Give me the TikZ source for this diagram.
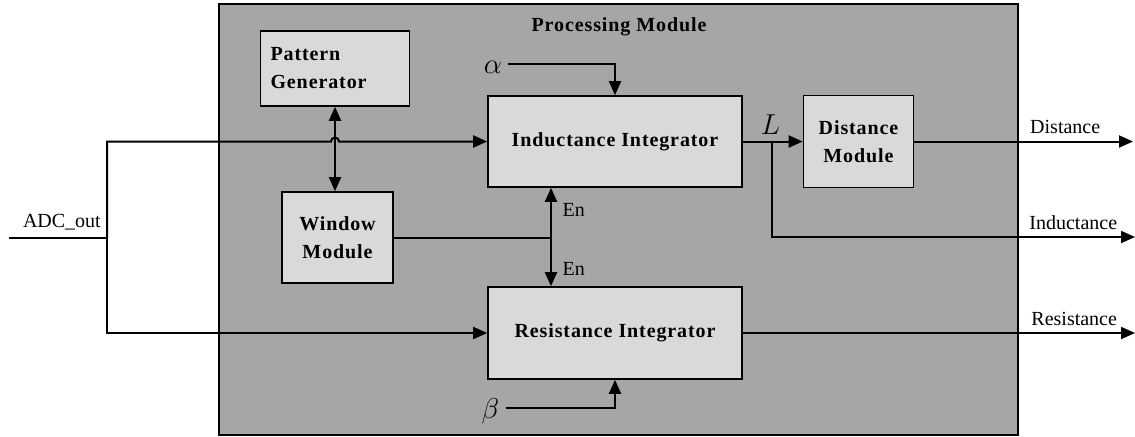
\documentclass[tikz,border=0pt]{standalone}
\usepackage{fontspec}
\setmainfont{Liberation Serif}
\newfontfamily\blockfont[LetterSpace=4.5]{Liberation Serif}
\usetikzlibrary{arrows.meta}
\definecolor{modgray}{HTML}{A6A6A6}
\definecolor{boxgray}{HTML}{D9D9D9}
\tikzset{
	block/.style={draw,fill=boxgray,line width=0.8pt,align=center,inner sep=0pt,
		font=\blockfont\bfseries\fontsize{10}{14}\selectfont},
	sym/.style={inner sep=3pt,font=\fontsize{15}{15}\selectfont},
	sig/.style={line width=1pt}
}

\begin{document}
\begin{tikzpicture}[x=0.5pt,y=-0.5pt,>={Triangle[length=7pt,width=6pt]},font=\fontsize{10}{12}\selectfont]
	\useasboundingbox (0,0) rectangle (1135,436);
	\draw[fill=modgray,line width=0.8pt] (219,4) rectangle (1018,435);
	\node[font=\blockfont\bfseries\fontsize{10}{12}\selectfont] (title) at (619,27) {Processing Module};
	\node[block,minimum width=74.5pt,minimum height=37.5pt,text width=64.5pt,align=left] (pattern) at (335,68.5) {Pattern\\Generator};
	\node[block,minimum width=55.5pt,minimum height=45.5pt] (window) at (337.5,237.5) {Window\\Module};
	\node[block,minimum width=127pt,minimum height=45.5pt] (ind) at (615,141.5) {Inductance Integrator};
	\node[block,minimum width=127pt,minimum height=46pt] (res) at (615,333) {Resistance Integrator};
	\node[block,minimum width=55pt,minimum height=46pt] (dist) at (858.5,141.5) {Distance\\Module};
	\node[sym] (alpha) at (493,67) {$\alpha$};
	\node[sym] (beta) at (490.5,411) {$\beta$};
	\coordinate (adc) at (9,238);
	\coordinate (split) at (107,238);
	\coordinate (en) at (551,237.5);
	\coordinate (lsplit) at (772,141.5);
	\coordinate (outD) at (1133,142);
	\coordinate (outI) at (1135,237);
	\coordinate (outR) at (1135,333);

	\draw[sig] (adc) --node[pos=0.54,above]{ADC\_out} (split);
	\draw[sig,->] (split) |- ([xshift=-2pt]pattern.south |- ind.west) arc[start angle=180,end angle=0,radius=2pt] -- (ind.west);
	\draw[sig,->] (split) |- (res.west);
	\draw[sig,<->] (pattern.south) -- (pattern.south |- window.north);
	\draw[sig] (window.east) -- (en);
	\draw[sig,<->] (en |- ind.south) --node[pos=0.22,right,xshift=2pt]{En} node[pos=0.82,right,xshift=2pt]{En} (en |- res.north);
	\draw[sig,->] ([yshift=1.5pt]alpha.east) -| (ind.north);
	\draw[sig,->] ([yshift=1.5pt]beta.east) -| (res.south);
	\draw[sig,->] (ind.east) --node[pos=0.46,above,sym]{$L$} (dist.west);
	\draw[sig,->] (dist.east) --node[pos=0.69,above]{Distance} (dist.east -| outD);
	\draw[sig,->] (lsplit) |- node[pos=0.915,above]{Inductance} (outI);
	\draw[sig,->] (res.east) --node[pos=0.845,above]{Resistance} (res.east -| outR);
\end{tikzpicture}
\end{document}
